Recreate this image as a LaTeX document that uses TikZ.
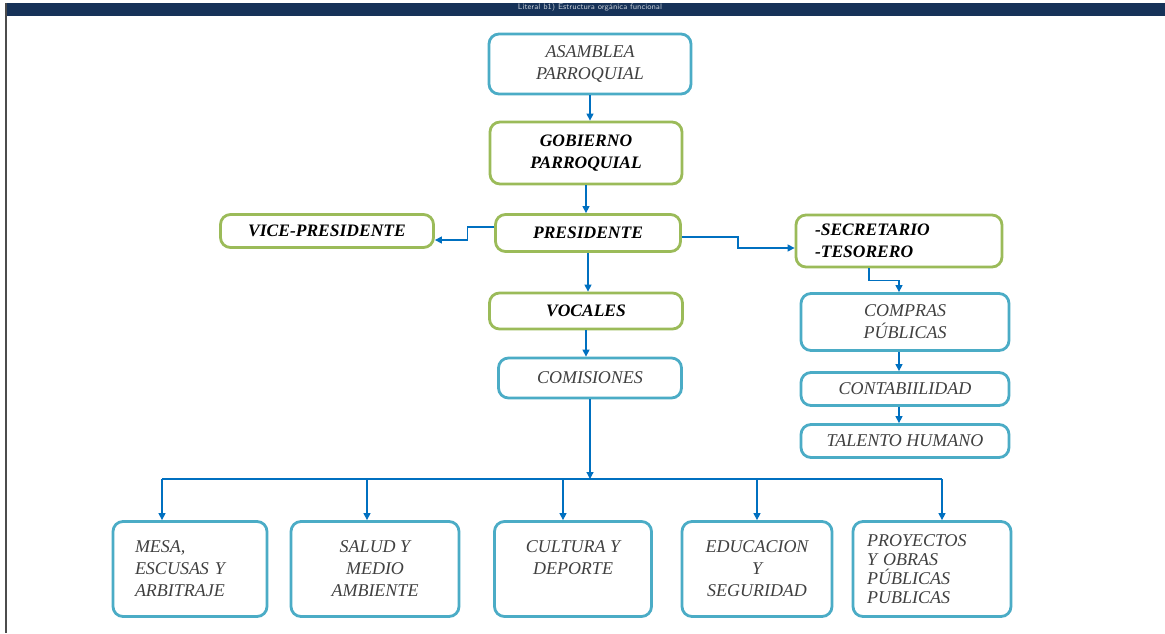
\documentclass[tikz,border=0pt]{standalone}
\usepackage{fontspec}
\setmainfont{Liberation Serif}
\usetikzlibrary{arrows.meta}
\definecolor{aqua}{RGB}{75,172,198}
\definecolor{olive}{RGB}{155,187,89}
\definecolor{linkblue}{RGB}{0,112,192}
\definecolor{navy}{RGB}{22,50,88}
\begin{document}
\begin{tikzpicture}[x=1pt,y=-1pt,
  box/.style={draw,rounded corners=10pt,line width=2.8pt,align=center,inner sep=0pt,
    font=\fontsize{18}{22}\selectfont\itshape,text=black!75},
  blu/.style={box,draw=aqua},
  grn/.style={box,draw=olive,font=\fontsize{17.5}{22}\selectfont\itshape\bfseries,text=black},
  com/.style={blu,minimum height=95},
  conn/.style={draw=linkblue,line width=1.2pt,-{Triangle[length=7pt,width=7pt]}},
  bus/.style={draw=linkblue,line width=1.2pt}]
  \useasboundingbox (0,0) rectangle (1165,633);
  \fill[white] (0,0) rectangle (1165,633);
  \fill[navy] (6,3) rectangle (1165,16);
  \draw[black!70,line width=1.5pt] (6,3) -- (6,633);
  \node[font=\sffamily\fontsize{8}{9}\selectfont,text=white!75!navy] (banner) at (590,7) {Literal b1) Estructura orgánica funcional};

  \node[blu,minimum width=202,minimum height=60] (asamblea) at (590,64) {ASAMBLEA\\PARROQUIAL};
  \node[grn,minimum width=192,minimum height=62] (gobierno) at (586,153) {GOBIERNO\\PARROQUIAL};
  \node[grn,minimum width=213,minimum height=33] (vice) at (327,231) {VICE-PRESIDENTE};
  \node[grn,minimum width=185,minimum height=37] (presidente) at (588,233) {PRESIDENTE};
  \node[grn,minimum width=206,minimum height=52,text width=168,align=left] (secretario) at (899,241) {-SECRETARIO\\-TESORERO};
  \node[blu,minimum width=208,minimum height=57] (compras) at (905,322) {COMPRAS\\PÚBLICAS};
  \node[blu,minimum width=208,minimum height=33] (contab) at (905,389) {CONTABIILIDAD};
  \node[blu,minimum width=208,minimum height=33] (talento) at (905,441) {TALENTO HUMANO};
  \node[grn,minimum width=193,minimum height=36] (vocales) at (586,311) {VOCALES};
  \node[blu,minimum width=183,minimum height=40] (comisiones) at (590,378) {COMISIONES};

  \node[com,minimum width=154,text width=110,align=left] (mesa) at (190,569) {MESA,\\ESCUSAS Y\\ARBITRAJE};
  \node[com,minimum width=168] (salud) at (375,569) {SALUD Y\\MEDIO\\AMBIENTE};
  \node[com,minimum width=157] (cultura) at (573,569) {CULTURA Y\\DEPORTE\\\mbox{}};
  \node[com,minimum width=150] (educacion) at (757,569) {EDUCACION\\Y\\SEGURIDAD};
  \node[com,minimum width=158,text width=130,align=left,font=\fontsize{18}{19}\selectfont\itshape] (proyectos) at (932,569) {PROYECTOS\\Y OBRAS\\PÚBLICAS\\PUBLICAS};

  \draw[conn] (asamblea.south) -- (asamblea.south |- gobierno.north);
  \draw[conn] (gobierno.south) -- (gobierno.south |- presidente.north);
  \draw[conn] ([yshift=6pt]presidente.west) -- ++(-27,0) |- ([yshift=-9pt]vice.east);
  \draw[conn] ([yshift=-4pt]presidente.east) -- ++(56,0) |- ([yshift=-7pt]secretario.west);
  \draw[conn] ([xshift=-30pt]secretario.south) -- ++(0,12) -| ([xshift=-6pt]compras.north);
  \draw[conn] ([xshift=-6pt]compras.south) -- ([xshift=-6pt]contab.north);
  \draw[conn] ([xshift=-6pt]contab.south) -- ([xshift=-6pt]talento.north);
  \draw[conn] (presidente.south) -- (presidente.south |- vocales.north);
  \draw[conn] (vocales.south) -- (vocales.south |- comisiones.north);
  \coordinate (bus) at (590,479);
  \draw[conn] (comisiones.south) -- (bus);
  \draw[bus] ([xshift=-28pt]mesa.north |- bus) -- ([xshift=10pt]proyectos.north |- bus);
  \foreach \n/\dx in {mesa/-28,salud/-8,cultura/-10,educacion/0,proyectos/10}
    \draw[conn] ([xshift=\dx pt]\n.north |- bus) -- ([xshift=\dx pt]\n.north);
\end{tikzpicture}
\end{document}
